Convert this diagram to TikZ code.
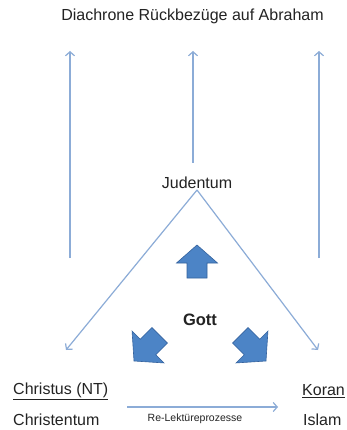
\documentclass[tikz,border=0pt]{standalone}
\usepackage{fontspec}
\setmainfont{Liberation Sans}
\usetikzlibrary{arrows.meta}
\definecolor{lineblue}{RGB}{140,172,215}
\definecolor{blockfill}{RGB}{76,132,198}
\definecolor{blockedge}{RGB}{52,98,158}
\definecolor{txt}{RGB}{35,35,35}
\tikzset{
  lbl/.style={text=txt,inner sep=0pt,font=\fontsize{16}{19}\selectfont},
  thinarrow/.style={draw=lineblue,line width=1.2pt,-{Straight Barb[length=4pt,width=9pt,line width=1.2pt]}},
  blockarrow/.style={fill=blockfill,draw=blockedge,line width=0.6pt,line join=miter}
}
\newcommand{\blockshape}{(0,0) -- (-18,20.5) -- (-18,10) -- (-33,10) -- (-33,-10) -- (-18,-10) -- (-18,-20.5) -- cycle}
\begin{document}
\begin{tikzpicture}[x=1pt,y=-1pt]
\useasboundingbox (0,0) rectangle (346,430);
\fill[white] (0,0) rectangle (346,430);
% title
\node[lbl] (title) at (192.5,16) {Diachrone Rückbezüge auf Abraham};
% vertical arrows
\coordinate (l0) at (70,258); \coordinate (l1) at (70,51);
\coordinate (m0) at (193,163); \coordinate (m1) at (193,51);
\coordinate (r0) at (319,258); \coordinate (r1) at (319,51);
\draw[thinarrow] (l0) -- (l1);
\draw[thinarrow] (m0) -- (m1);
\draw[thinarrow] (r0) -- (r1);
% Judentum
\node[lbl] (jud) at (197,183) {Judentum};
\coordinate (apex) at (197,190);
\coordinate (ltip) at (66,350);
\coordinate (rtip) at (318,350);
\draw[thinarrow] (apex) -- (ltip);
\draw[thinarrow] (apex) -- (rtip);
% block arrows
\begin{scope}[shift={(197,245)},rotate=90]
  \path[blockarrow] \blockshape;
\end{scope}
\begin{scope}[shift={(134,361)},rotate=225,scale=1.1]
  \path[blockarrow] \blockshape;
\end{scope}
\begin{scope}[shift={(266,361)},rotate=315,scale=1.1]
  \path[blockarrow] \blockshape;
\end{scope}
% Gott
\node[lbl,font=\fontsize{16.5}{19}\selectfont\bfseries] (gott) at (200,320) {Gott};
% bottom labels
\node[lbl,anchor=west] (christus) at (13,391) {\underline{Christus (NT)}};
\node[lbl,anchor=west] (christentum) at (13,420) {Christentum};
\node[lbl,anchor=west] (koran) at (302,391) {\underline{Koran}};
\node[lbl,anchor=west] (islam) at (303,420) {Islam};
\coordinate (rl0) at (127,407);
\coordinate (rl1) at (278,407);
\draw[thinarrow] (rl0) -- (rl1);
\node[lbl,font=\fontsize{10.5}{12}\selectfont] (relekt) at (195,419) {Re-Lektüreprozesse};
\end{tikzpicture}
\end{document}
